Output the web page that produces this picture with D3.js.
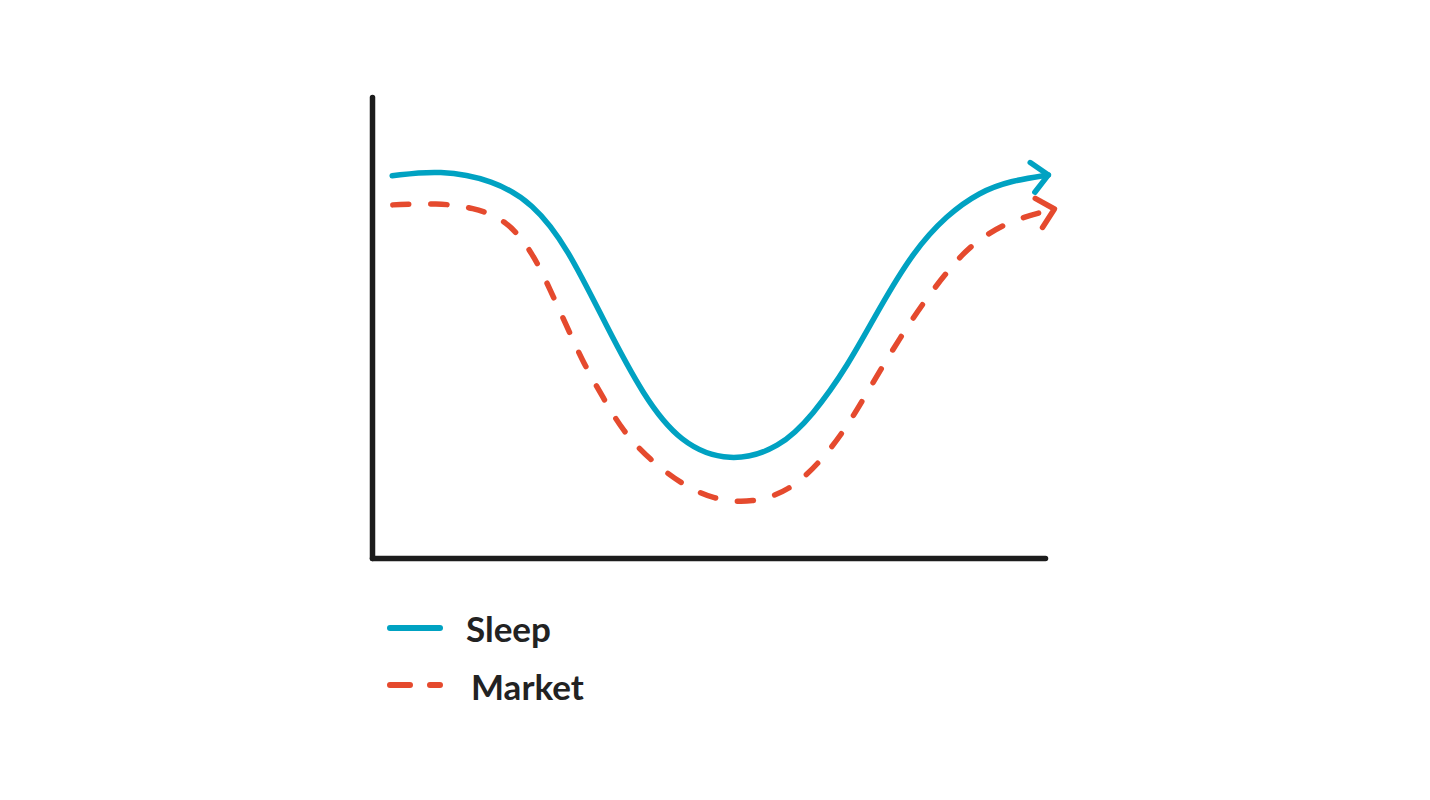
<!DOCTYPE html>
<html>
<head>
<meta charset="utf-8">
<script src="https://cdn.jsdelivr.net/npm/d3@7"></script>
<style>
  body { margin: 0; background: #fff; }
  text { font-family: Lato, "Noto Sans", sans-serif; }
</style>
</head>
<body>
<script>
const w = 1430;
const h = 800;

// values (x: 0-100 across the axis, y: 0-100 up the axis)
const sleepX = [3, 10.1, 18, 23.9, 29, 34.9, 40.3, 45.8, 53.2, 60.6, 65.5, 70.6, 75.5, 80.4, 85.4, 90.3, 94.8, 100.5];
const sleepY = [82.9, 84.2, 82, 77, 67.5, 50.1, 35.2, 24.8, 20.6, 23.8, 31, 41.4, 54.5, 66.4, 74.4, 79.4, 81.8, 83.1];
const marketX = [3.1, 9.7, 15, 20.1, 23.9, 26.5, 29, 31.4, 34.3, 37.3, 41.3, 45.8, 50.7, 56.6, 62.1, 66.6, 70.6, 74.4, 78.5, 82.5, 86.3, 89.3, 94.8, 101.4];
const marketY = [76.6, 77, 76.1, 73.3, 66.2, 58.1, 50.1, 42.3, 34.9, 27.4, 21.3, 16.2, 12.6, 11.9, 14.6, 20.8, 28.4, 38, 47.9, 56.6, 63.6, 68.3, 73.3, 75.7];
const seriesNames = ["Sleep", "Market"];
const seriesColors = ["#00a2c2", "#e54a2e"];

const svg = d3.select("body").append("svg").attr("width", w).attr("height", h);

const x = d3.scaleLinear().domain([0, 100]).range([372, 1045]);
const y = d3.scaleLinear().domain([0, 100]).range([558, 97]);

// axes: only the domain lines, no ticks
svg.append("g").attr("transform", "translate(372,0)")
  .call(d3.axisLeft(y).ticks(0).tickSizeOuter(0));
svg.append("g").attr("transform", "translate(0,558)")
  .call(d3.axisBottom(x).ticks(0).tickSizeOuter(0));
svg.selectAll(".domain")
  .attr("stroke", "#1c1c1c")
  .attr("stroke-width", 5.5)
  .attr("stroke-linecap", "round");

// open arrow heads
const defs = svg.append("defs");
seriesColors.forEach((c, i) => {
  defs.append("marker")
    .attr("id", "arrow" + i)
    .attr("markerUnits", "userSpaceOnUse")
    .attr("viewBox", "-22 -22 30 44")
    .attr("markerWidth", 30)
    .attr("markerHeight", 44)
    .attr("refX", 0)
    .attr("refY", 0)
    .attr("orient", "auto")
    .append("path")
    .attr("d", "M-16,-15L0,0L-16,15")
    .attr("fill", "none")
    .attr("stroke", c)
    .attr("stroke-width", 5.5)
    .attr("stroke-linecap", "round")
    .attr("stroke-linejoin", "round");
});

const line = d3.line()
  .x(d => x(d[0]))
  .y(d => y(d[1]))
  .curve(d3.curveBasis);

const sleep = sleepX.map((v, i) => [v, sleepY[i]]);
const market = marketX.map((v, i) => [v, marketY[i]]);

svg.append("path")
  .attr("d", line(market))
  .attr("fill", "none")
  .attr("stroke", seriesColors[1])
  .attr("stroke-width", 5.5)
  .attr("stroke-linecap", "round")
  .attr("stroke-dasharray", "16,22")
  .attr("marker-end", "url(#arrow1)");

svg.append("path")
  .attr("d", line(sleep))
  .attr("fill", "none")
  .attr("stroke", seriesColors[0])
  .attr("stroke-width", 5.5)
  .attr("stroke-linecap", "round")
  .attr("marker-end", "url(#arrow0)");

// legend
const legend = svg.append("g");
const rowY = [628, 685];
const textX = [466, 471];
const textY = [642, 700];

legend.selectAll("line.key").data(seriesNames).enter().append("line")
  .attr("class", "key")
  .attr("x1", 390)
  .attr("x2", 440)
  .attr("y1", (d, i) => rowY[i])
  .attr("y2", (d, i) => rowY[i])
  .attr("stroke", (d, i) => seriesColors[i])
  .attr("stroke-width", 6)
  .attr("stroke-linecap", "round")
  .attr("stroke-dasharray", (d, i) => i === 1 ? "20,20" : null);

legend.selectAll("text").data(seriesNames).enter().append("text")
  .text(d => d)
  .attr("x", (d, i) => textX[i])
  .attr("y", (d, i) => textY[i])
  .attr("font-size", 35)
  .attr("font-weight", "bold")
  .attr("fill", "#222");
</script>
</body>
</html>
